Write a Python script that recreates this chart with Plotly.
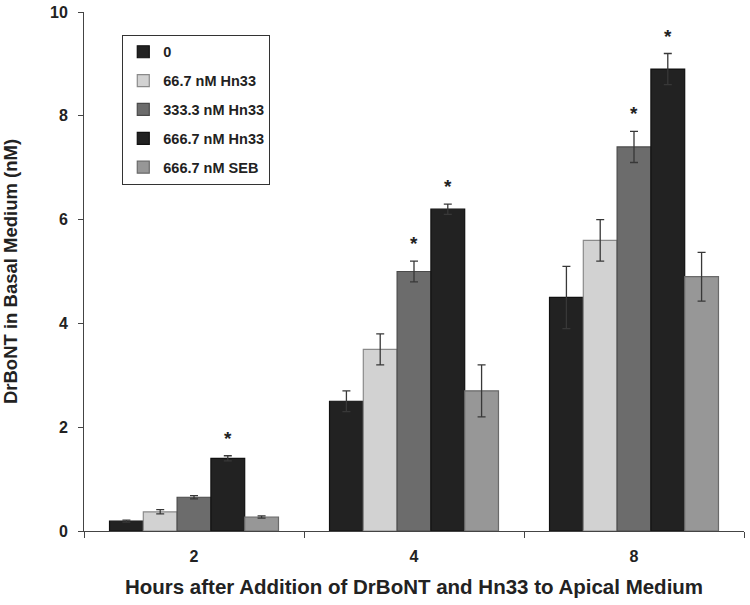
import plotly.graph_objects as go

hours = ["2", "4", "8"]
series_names = ["0", "66.7 nM Hn33", "333.3 nM Hn33", "666.7 nM Hn33", "666.7 nM SEB"]
values = [
    [0.19, 2.5, 4.5],
    [0.37, 3.5, 5.6],
    [0.65, 5.0, 7.4],
    [1.4, 6.2, 8.9],
    [0.27, 2.7, 4.9],
]
errors = [
    [0.02, 0.2, 0.6],
    [0.04, 0.3, 0.4],
    [0.03, 0.2, 0.3],
    [0.05, 0.1, 0.3],
    [0.02, 0.5, 0.47],
]
significant = [
    [False, False, False],
    [False, False, False],
    [False, True, True],
    [True, True, True],
    [False, False, False],
]
colors = ["#222222", "#d2d2d2", "#6c6c6c", "#222222", "#979797"]
line_colors = ["#111111", "#8a8a8a", "#4a4a4a", "#111111", "#6a6a6a"]

BARGAP = 0.232
FONT = "Liberation Sans, Arial, sans-serif"

fig = go.Figure()
for i, name in enumerate(series_names):
    fig.add_trace(go.Bar(
        x=hours, y=values[i], name=name,
        legendgroup=name,
        marker=dict(color=colors[i], line=dict(color=line_colors[i], width=1.2)),
        error_y=dict(type="data", array=errors[i], color="#383838", thickness=1.3, width=4),
    ))

n = len(series_names)
bw = (1 - BARGAP) / n
annotations = []
for i in range(n):
    for j in range(len(hours)):
        if significant[i][j]:
            xc = j - (1 - BARGAP) / 2 + (i + 0.5) * bw
            annotations.append(dict(
                x=xc, y=values[i][j] + errors[i][j], xref="x", yref="y",
                text="*", showarrow=False, yanchor="bottom", yshift=5,
                font=dict(family=FONT, size=19, color="#222222", weight="bold"),
            ))

fig.update_layout(
    width=750, height=605,
    margin=dict(l=84, r=6, t=12, b=74),
    paper_bgcolor="white", plot_bgcolor="white",
    barmode="group", bargap=BARGAP, bargroupgap=0,
    font=dict(family=FONT, size=14, color="#222222", weight="bold"),
    showlegend=True,
    legend=dict(
        x=0.058, y=0.956, xanchor="left", yanchor="top",
        bordercolor="#333333", borderwidth=1, bgcolor="white",
        font=dict(family=FONT, size=14.5, color="#222222", weight="bold"),
        tracegroupgap=7, traceorder="grouped", itemwidth=30,
    ),
    annotations=annotations,
    xaxis=dict(
        type="category", showline=True, linecolor="#444444", linewidth=1,
        ticks="outside", tickson="boundaries", ticklen=6, tickcolor="#444444",
        tickfont=dict(family=FONT, size=16, color="#222222", weight="bold"),
        ticklabelstandoff=11,
        title=dict(text="Hours after Addition of DrBoNT and Hn33 to Apical Medium",
                   font=dict(family=FONT, size=20.5, color="#222222", weight="bold"), standoff=15),
        automargin=False, showgrid=False,
    ),
    yaxis=dict(
        range=[0, 10], dtick=2, showline=True, linecolor="#444444", linewidth=1,
        ticks="outside", ticklen=5, tickcolor="#444444", showgrid=False, zeroline=False,
        tickfont=dict(family=FONT, size=16, color="#222222", weight="bold"),
        ticklabelstandoff=7,
        title=dict(text="DrBoNT in Basal Medium (nM)",
                   font=dict(family=FONT, size=18.5, color="#222222", weight="bold"), standoff=28),
        automargin=False,
    ),
)

fig.write_html("out.html", config={"displayModeBar": False},
               post_script="document.body.style.margin='0';")
